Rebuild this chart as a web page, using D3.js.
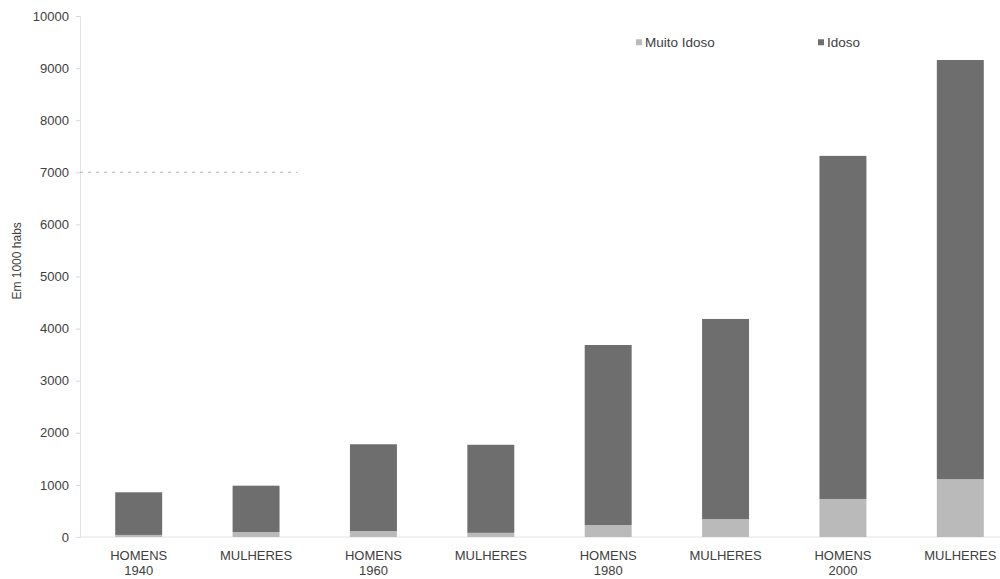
<!DOCTYPE html>
<html>
<head>
<meta charset="utf-8">
<script src="https://cdn.jsdelivr.net/npm/d3@7"></script>
<style>
  body { margin: 0; background: #fff; }
  svg { display: block; font-family: "Liberation Sans", Arial, sans-serif; }
</style>
</head>
<body>
<div id="chart"></div>
<script>
// grupos (sexo + ano)
const categories = ["H1940", "M1940", "H1960", "M1960", "H1980", "M1980", "H2000", "M2000"]
const labelTop = ["HOMENS", "MULHERES", "HOMENS", "MULHERES", "HOMENS", "MULHERES", "HOMENS", "MULHERES"]
const labelYear = ["1940", "", "1960", "", "1980", "", "2000", ""]
// valores em 1000 habs
const muitoIdoso = [40, 95, 115, 80, 230, 345, 730, 1110]
const idoso = [818, 890, 1665, 1690, 3455, 3840, 6585, 8045]
const yTicks = [0, 1000, 2000, 3000, 4000, 5000, 6000, 7000, 8000, 9000, 10000]
const seriesNames = ["Muito Idoso", "Idoso"]
const refValue = 7000

const width = 1000, height = 579
const margin = [16, -19, 42, 80] // top right bottom left
const colors = { "Muito Idoso": "#bababa", "Idoso": "#6e6e6e" }
const textColor = "#404040"

const rows = categories.map((c, i) => ({ cat: c, "Muito Idoso": muitoIdoso[i], "Idoso": idoso[i] }))
const stacked = d3.stack().keys(seriesNames)(rows)

const x = d3.scaleBand()
  .domain(categories)
  .range([margin[3], width - margin[1]])
  .paddingInner(0.6)
  .paddingOuter(0.3)
const y = d3.scaleLinear()
  .domain([0, 10000])
  .range([height - margin[2], margin[0]])

const svg = d3.select("#chart").append("svg")
  .attr("width", width)
  .attr("height", height)
  .attr("viewBox", [0, 0, width, height])

// eixo y
const yAxis = d3.axisLeft(y).tickValues(yTicks).tickSize(4).tickPadding(7).tickFormat(d3.format("d"))
svg.append("g")
  .attr("transform", `translate(${margin[3]},0)`)
  .call(yAxis)
  .call(g => g.select(".domain").attr("stroke", "#e2e2e2"))
  .call(g => g.selectAll(".tick line").attr("stroke", "#d8d8d8"))
  .call(g => g.selectAll(".tick text").attr("fill", textColor).style("font-size", "13px"))

// linha de base
svg.append("line")
  .attr("x1", margin[3]).attr("x2", width)
  .attr("y1", y(0)).attr("y2", y(0))
  .attr("stroke", "#e4e4e4")

// linha tracejada em 7000
svg.append("line")
  .attr("x1", margin[3])
  .attr("x2", x(categories[1]) + x.bandwidth() + 18)
  .attr("y1", y(refValue)).attr("y2", y(refValue))
  .attr("stroke", "#b5b5b5")
  .attr("stroke-dasharray", "3,5")

svg.append("text")
  .attr("transform", `translate(21,${y(5300)}) rotate(-90)`)
  .attr("text-anchor", "middle")
  .attr("fill", textColor)
  .style("font-size", "12px")
  .text("Em 1000 habs")

// barras empilhadas
svg.append("g")
  .selectAll("g")
  .data(stacked)
  .join("g")
  .attr("fill", d => colors[d.key])
  .selectAll("rect")
  .data(d => d)
  .join("rect")
  .attr("x", d => x(d.data.cat))
  .attr("y", d => y(d[1]))
  .attr("height", d => y(d[0]) - y(d[1]))
  .attr("width", x.bandwidth())

// rótulos do eixo x
const xl = svg.append("g")
  .selectAll("text")
  .data(categories)
  .join("text")
  .attr("x", d => x(d) + x.bandwidth() / 2)
  .attr("y", y(0) + 23)
  .attr("text-anchor", "middle")
  .attr("fill", textColor)
  .style("font-size", "13px")
xl.append("tspan").text((d, i) => labelTop[i])
xl.append("tspan")
  .attr("x", d => x(d) + x.bandwidth() / 2)
  .attr("dy", 15)
  .text((d, i) => labelYear[i])

// legenda
const legendX = [636, 818]
const legend = svg.append("g")
  .selectAll("g")
  .data(seriesNames)
  .join("g")
  .attr("transform", (d, i) => `translate(${legendX[i]},${y(9400)})`)
legend.append("rect")
  .attr("x", 0).attr("y", -8)
  .attr("width", 6).attr("height", 6)
  .attr("fill", d => colors[d])
legend.append("text")
  .attr("x", 9).attr("y", 0)
  .attr("fill", textColor)
  .style("font-size", "13.5px")
  .text(d => d)
</script>
</body>
</html>
